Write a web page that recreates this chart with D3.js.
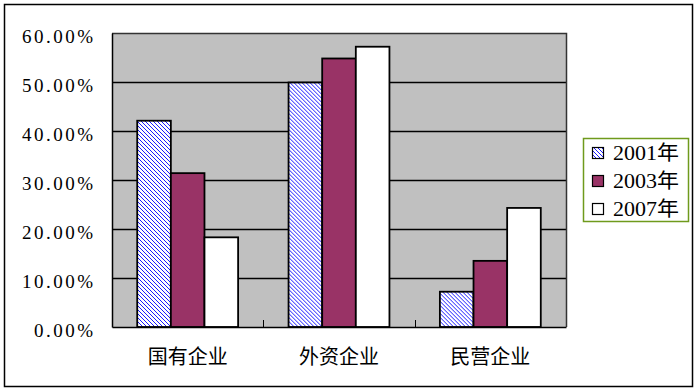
<!DOCTYPE html>
<html>
<head>
<meta charset="utf-8">
<script src="https://cdn.jsdelivr.net/npm/d3@7"></script>
<style>
  body { margin: 0; background: #fff; }
  svg { display: block; }
</style>
</head>
<body>
<div id="chart"></div>
<script>
var categories = ["国有企业", "外资企业", "民营企业"];
var years = ["2001年", "2003年", "2007年"];
var values2001 = [42.1, 49.9, 7.2];
var values2003 = [31.4, 54.8, 13.5];
var values2007 = [18.3, 57.2, 24.3];
var yTicks = [0, 10, 20, 30, 40, 50, 60];

var series = [values2001, values2003, values2007];
var fills = ["url(#hatch)", "#993366", "#ffffff"];

var W = 698, H = 392;
var plot = { left: 112, top: 33, right: 566, bottom: 327 };

var svg = d3.select("#chart").append("svg")
    .attr("width", W)
    .attr("height", H);

// hatch pattern for 2001
var defs = svg.append("defs");
var pat = defs.append("pattern")
    .attr("id", "hatch")
    .attr("patternUnits", "userSpaceOnUse")
    .attr("width", 4)
    .attr("height", 4);
pat.append("rect").attr("width", 4).attr("height", 4).attr("fill", "#fff");
pat.append("path")
    .attr("d", "M0,0L4,4M-1,3L1,5M3,-1L5,1")
    .attr("stroke", "#1a1aff")
    .attr("stroke-width", 1);

// outer frame
svg.append("rect")
    .attr("x", 4.5).attr("y", 4.5)
    .attr("width", 688).attr("height", 382)
    .attr("fill", "none")
    .attr("stroke", "#000")
    .attr("stroke-width", 1.5);

// Scales
var x0 = d3.scaleBand()
    .domain(categories)
    .range([plot.left, plot.right])
    .padding(0);

var x1 = d3.scaleBand()
    .domain(years)
    .range([0, x0.bandwidth()])
    .paddingInner(0)
    .paddingOuter(0.75);

var y = d3.scaleLinear()
    .domain([0, 60])
    .range([plot.bottom, plot.top]);

// plot background
svg.append("rect")
    .attr("x", plot.left).attr("y", plot.top)
    .attr("width", plot.right - plot.left)
    .attr("height", plot.bottom - plot.top)
    .attr("fill", "#c0c0c0");

// gridlines
svg.append("g").selectAll("line")
    .data(yTicks.filter(function(d) { return d > 0 && d < 60; }))
    .enter().append("line")
    .attr("x1", plot.left).attr("x2", plot.right)
    .attr("y1", function(d) { return Math.round(y(d)) + 0.5; })
    .attr("y2", function(d) { return Math.round(y(d)) + 0.5; })
    .attr("stroke", "#000")
    .attr("stroke-width", 1.5);

// plot frame (top/right)
svg.append("path")
    .attr("d", "M" + plot.left + "," + (plot.top + 0.5) + "H" + (plot.right + 0.5) + "V" + plot.bottom)
    .attr("fill", "none")
    .attr("stroke", "#333")
    .attr("stroke-width", 1.5);

// bars
var groups = svg.append("g").selectAll("g")
    .data(categories)
    .enter().append("g")
    .attr("transform", function(d) { return "translate(" + x0(d) + ",0)"; });

groups.selectAll("rect")
    .data(function(d, i) {
        return years.map(function(yr, j) { return { year: yr, value: series[j][i], j: j }; });
    })
    .enter().append("rect")
    .attr("x", function(d) { return x1(d.year); })
    .attr("y", function(d) { return y(d.value); })
    .attr("width", x1.bandwidth())
    .attr("height", function(d) { return plot.bottom - y(d.value); })
    .attr("fill", function(d) { return fills[d.j]; })
    .attr("stroke", "#000")
    .attr("stroke-width", 1.8);

// y axis
var yAxis = d3.axisLeft(y)
    .tickValues(yTicks)
    .tickSize(0)
    .tickPadding(19)
    .tickFormat(function(d) { return d3.format(".2f")(d) + "%"; });

var yAxisGroup = svg.append("g")
    .attr("transform", "translate(" + plot.left + ",0)")
    .call(yAxis);
yAxisGroup.select(".domain")
    .attr("stroke", "#000")
    .attr("stroke-width", 1.5);
yAxisGroup.selectAll("text")
    .attr("font-family", "'Liberation Serif', 'DejaVu Serif', serif")
    .attr("font-size", 19)
    .attr("fill", "#000")
    .attr("dy", "0.5em")
    .attr("textLength", function(d) { return d < 10 ? 59 : 71; })
    .attr("lengthAdjust", "spacing");

// x axis
var xAxis = d3.axisBottom(x0)
    .tickSize(0)
    .tickPadding(23);

var xAxisGroup = svg.append("g")
    .attr("transform", "translate(0," + plot.bottom + ")")
    .call(xAxis);
xAxisGroup.select(".domain")
    .attr("stroke", "#000")
    .attr("stroke-width", 1.5);
xAxisGroup.selectAll("text")
    .attr("font-family", "'Noto Sans CJK SC', sans-serif")
    .attr("font-size", 20)
    .attr("fill", "#000");

// inward tick marks between categories
svg.append("g").selectAll("line")
    .data(categories.slice(1))
    .enter().append("line")
    .attr("x1", function(d) { return Math.round(x0(d)) + 0.5; })
    .attr("x2", function(d) { return Math.round(x0(d)) + 0.5; })
    .attr("y1", plot.bottom)
    .attr("y2", plot.bottom - 7)
    .attr("stroke", "#000")
    .attr("stroke-width", 1);

// legend
var legend = svg.append("g").attr("transform", "translate(583,138)");
legend.append("rect")
    .attr("x", 0.5).attr("y", 0.5)
    .attr("width", 105).attr("height", 83)
    .attr("fill", "#fff")
    .attr("stroke", "#6f9a1c")
    .attr("stroke-width", 1.5);

var items = legend.selectAll("g.item")
    .data(years)
    .enter().append("g")
    .attr("class", "item")
    .attr("transform", function(d, i) { return "translate(0," + [15, 43, 71][i] + ")"; });

items.append("rect")
    .attr("x", 9.5).attr("y", -5.5)
    .attr("width", 11).attr("height", 11)
    .attr("fill", function(d, i) { return fills[i]; })
    .attr("stroke", "#000")
    .attr("stroke-width", 1.2);

items.append("text")
    .attr("x", 30)
    .attr("y", 0)
    .attr("dy", "0.36em")
    .attr("font-family", "'Liberation Serif', 'Noto Sans CJK SC', serif")
    .attr("font-size", 20)
    .attr("fill", "#000")
    .attr("textLength", 66)
    .attr("lengthAdjust", "spacingAndGlyphs")
    .text(function(d) { return d; });
</script>
</body>
</html>
